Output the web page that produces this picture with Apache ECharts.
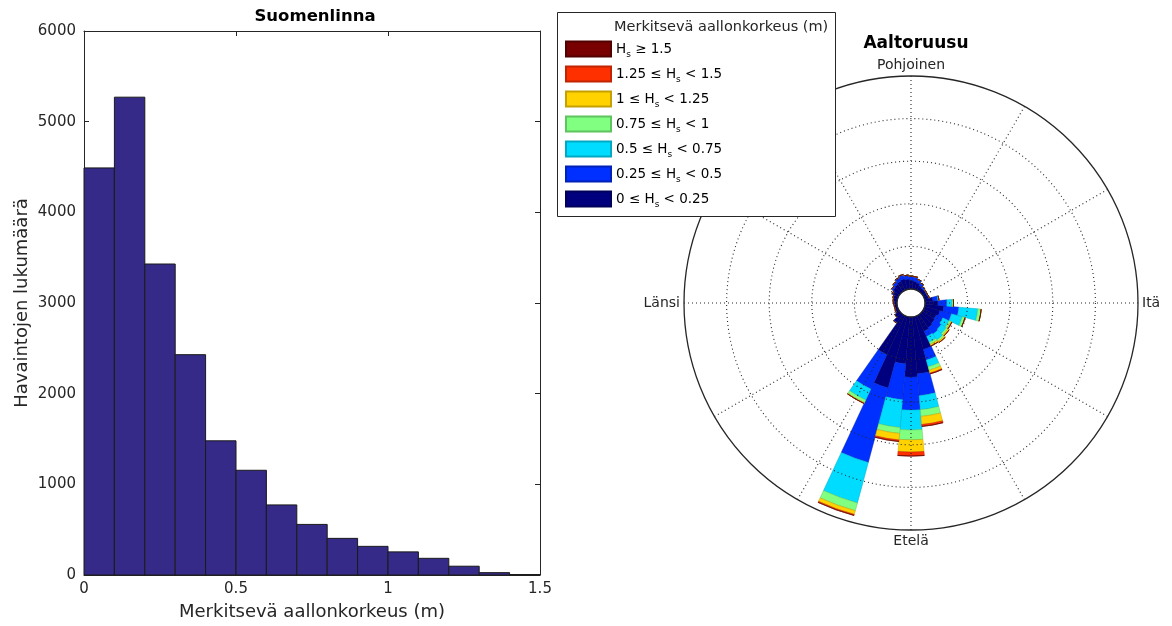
<!DOCTYPE html>
<html>
<head>
<meta charset="utf-8">
<script src="https://cdn.jsdelivr.net/npm/echarts@6.0.0/dist/echarts.min.js"></script>
<style>
html,body{margin:0;padding:0;background:#fff;}
#chart{width:1172px;height:626px;}
</style>
</head>
<body>
<div id="chart"></div>
<script>
// ---------- Histogram (Suomenlinna) ----------
const binEdges = [0, 0.1, 0.2, 0.3, 0.4, 0.5, 0.6, 0.7, 0.8, 0.9, 1.0, 1.1, 1.2, 1.3, 1.4, 1.5];
const binCounts = [4490, 5270, 3430, 2430, 1480, 1155, 773, 558, 404, 316, 255, 184, 97, 26, 5];
const histXTicks = [0, 0.5, 1, 1.5];
const histYTicks = [0, 1000, 2000, 3000, 4000, 5000, 6000];

// ---------- Wave rose (Aaltoruusu) ----------
const directions = ['0','10','20','30','40','50','60','70','80','90','100','110','120','130','140','150','160','170',
                    '180','190','200','210','220','230','240','250','260','270','280','290','300','310','320','330','340','350'];
const compassAngles = [0, 90, 180, 270];
const compassLabels = ['Pohjoinen', 'Itä', 'Etelä', 'Länsi'];
// frequency per direction for each wave height class (stacked)
const hs0_025 =   [0.42,0.38,0.33,0.23,0.19,0.19,0.16,0.19,0.38,0.61,0.89,0.75,0.66,0.70,0.75,0.80,1.60,2.68,
                   2.82,2.21,3.47,2.02,0.47,0.28,0.16,0.14,0.14,0.16,0.19,0.23,0.28,0.38,0.42,0.47,0.52,0.47];
const hs025_05 =  [0.19,0.21,0.16,0.15,0.09,0.04,0.05,0.04,0.23,0.42,0.71,0.56,0.33,0.38,0.38,0.28,0.51,1.03,
                   1.55,1.69,3.62,1.78,0.04,0.00,0.00,0.00,0.00,0.00,0.00,0.00,0.05,0.09,0.14,0.19,0.21,0.19];
const hs05_075 =  [0,0,0,0,0,0,0,0,0.05,0.24,0.89,0.52,0.32,0.28,0.33,0.30,0.33,0.66,
                   0.94,1.31,1.97,0.57,0,0,0,0,0,0,0,0,0,0,0,0,0,0];
const hs075_1 =   [0,0,0,0,0,0,0,0,0,0.07,0.16,0.14,0.10,0.10,0.09,0.10,0.17,0.32,
                   0.46,0.28,0.38,0.14,0,0,0,0,0,0,0,0,0,0,0,0,0,0];
const hs1_125 =   [0,0,0,0,0,0,0,0,0,0,0,0,0.05,0.07,0.07,0.09,0.14,0.38,
                   0.57,0.31,0.18,0.04,0,0,0,0,0,0,0,0,0,0,0,0,0,0];
const hs125_15 =  [0,0,0,0,0,0,0,0,0,0,0,0,0,0,0,0,0.04,0.09,
                   0.19,0.07,0.05,0,0,0,0,0,0,0,0,0,0,0,0,0,0,0];
const hs15 =      [0,0,0,0,0,0,0,0,0,0,0,0,0,0,0,0,0,0,
                   0,0,0,0,0,0,0,0,0,0,0,0,0,0,0,0,0,0];
const classNames = ['0 ≤ Hs < 0.25','0.25 ≤ Hs < 0.5','0.5 ≤ Hs < 0.75','0.75 ≤ Hs < 1','1 ≤ Hs < 1.25','1.25 ≤ Hs < 1.5','Hs ≥ 1.5'];
const classRich = ['{t|0 ≤ H}{s|s}{t| < 0.25}','{t|0.25 ≤ H}{s|s}{t| < 0.5}','{t|0.5 ≤ H}{s|s}{t| < 0.75}',
                   '{t|0.75 ≤ H}{s|s}{t| < 1}','{t|1 ≤ H}{s|s}{t| < 1.25}','{t|1.25 ≤ H}{s|s}{t| < 1.5}','{t|H}{s|s}{t| ≥ 1.5}'];
const classColors = ['#00007f','#0030ff','#00dcff','#80ff80','#ffd200','#ff3000','#780000'];
const classBorders = ['#00005a','#0022b8','#00a8c4','#5fc45f','#c4a000','#c02400','#500000'];
const roseData = [hs0_025, hs025_05, hs05_075, hs075_1, hs1_125, hs125_15, hs15];
const roseMax = 10, roseStep = 2;

const FONT = 'DejaVu Sans';
const TXT = '#262626';

const chart = echarts.init(document.getElementById('chart'), null, {renderer: 'canvas'});

const histData = binCounts.map((c, i) => [binEdges[i], binEdges[i + 1], c]);

const roseSeries = roseData.map((arr, k) => ({
  type: 'bar',
  name: classNames[k],
  coordinateSystem: 'polar',
  polarIndex: 1,
  stack: 'rose',
  barCategoryGap: '0%',
  data: arr,
  itemStyle: {color: classColors[k], borderColor: classBorders[k], borderWidth: 0.5},
  z: 2,
  silent: true
}));

const richMap = {};
classNames.forEach((n, i) => richMap[n] = classRich[i]);

const boxAxis = {
  axisLine: {show: true, onZero: false, lineStyle: {color: TXT, width: 1}},
  axisTick: {show: true, inside: true, length: 5, lineStyle: {color: TXT}},
  splitLine: {show: false}
};

const option = {
  animation: false,
  backgroundColor: '#ffffff',
  textStyle: {fontFamily: FONT, color: TXT},
  title: [
    {text: 'Suomenlinna', left: 310, top: 3, textAlign: 'center',
     textStyle: {fontFamily: FONT, fontSize: 16.5, fontWeight: 'bold', color: '#000'}},
    {text: 'Aaltoruusu', left: 911, top: 30, textAlign: 'center',
     textStyle: {fontFamily: FONT, fontSize: 17, fontWeight: 'bold', color: '#000'}},
    {text: 'Merkitsevä aallonkorkeus (m)', left: 609, top: 15, z: 30,
     textStyle: {fontFamily: FONT, fontSize: 14.5, fontWeight: 'normal', color: TXT}}
  ],
  graphic: [{
    type: 'rect', z: 25,
    shape: {x: 557.5, y: 12.5, width: 278, height: 204},
    style: {fill: '#fff', stroke: TXT, lineWidth: 1}
  }],
  legend: {
    show: true, z: 30,
    orient: 'vertical', left: 565, top: 39,
    itemWidth: 45, itemHeight: 15, itemGap: 5,
    icon: 'rect',
    padding: 0,
    data: classNames.slice().reverse(),
    formatter: n => richMap[n],
    textStyle: {
      fontFamily: FONT, fontSize: 13.5, color: '#000',
      rich: {
        t: {fontFamily: FONT, fontSize: 13.5, color: '#000', lineHeight: 20},
        s: {fontFamily: FONT, fontSize: 9, color: '#000', lineHeight: 9, padding: [11, 0, 0, 0]}
      }
    },
    selectedMode: false
  },
  grid: {left: 84, right: 632, top: 31, bottom: 50, show: false},
  xAxis: [
    Object.assign({type: 'value', gridIndex: 0, position: 'bottom', min: histXTicks[0], max: histXTicks[histXTicks.length - 1], interval: 0.5,
     axisLabel: {fontFamily: FONT, fontSize: 15, color: TXT, margin: 7, formatter: v => String(v)},
     name: 'Merkitsevä aallonkorkeus (m)', nameLocation: 'middle', nameGap: 28,
     nameTextStyle: {fontFamily: FONT, fontSize: 18, color: TXT}}, boxAxis),
    Object.assign({type: 'value', gridIndex: 0, position: 'top', min: 0, max: 1.5, interval: 0.5,
     axisLabel: {show: false}}, boxAxis)
  ],
  yAxis: [
    Object.assign({type: 'value', gridIndex: 0, position: 'left', min: histYTicks[0], max: histYTicks[histYTicks.length - 1], interval: 1000,
     axisLabel: {fontFamily: FONT, fontSize: 15, color: TXT, margin: 8, formatter: v => String(v)},
     name: 'Havaintojen lukumäärä', nameLocation: 'middle', nameGap: 53, nameRotate: 90,
     nameTextStyle: {fontFamily: FONT, fontSize: 18, color: TXT}}, boxAxis),
    Object.assign({type: 'value', gridIndex: 0, position: 'right', min: 0, max: 6000, interval: 1000,
     axisLabel: {show: false}}, boxAxis)
  ],
  polar: [
    {center: [911, 303], radius: [14, 227]},
    {center: [911, 303], radius: [14, 227]}
  ],
  angleAxis: [
    {polarIndex: 0, type: 'value', min: 0, max: 360, interval: 30, startAngle: 90, clockwise: true, z: 5,
     axisLine: {show: true, lineStyle: {color: TXT, width: 1.3}},
     axisTick: {show: false},
     axisLabel: {show: true, margin: 4, fontFamily: FONT, fontSize: 14, color: TXT,
       formatter: v => { const i = compassAngles.indexOf(v); return (i >= 0 && v < 360) ? compassLabels[i] : ''; }},
     splitLine: {show: true, lineStyle: {color: TXT, width: 1.1, type: [1, 3]}}},
    {polarIndex: 1, type: 'category', data: directions, startAngle: 95, clockwise: true, show: false,
     boundaryGap: true}
  ],
  radiusAxis: [
    {polarIndex: 0, type: 'value', min: 0, max: roseMax, interval: roseStep, z: 5,
     axisLine: {show: false}, axisTick: {show: false}, axisLabel: {show: false},
     splitLine: {show: true, lineStyle: {color: ['rgba(0,0,0,0)', TXT, TXT, TXT, TXT, 'rgba(0,0,0,0)'], width: 1.1, type: [1, 3]}}},
    {polarIndex: 1, type: 'value', min: 0, max: roseMax, show: false}
  ],
  series: [
    {
      type: 'custom',
      xAxisIndex: 0, yAxisIndex: 0,
      data: histData,
      encode: {x: [0, 1], y: 2},
      renderItem: function (params, api) {
        const p0 = api.coord([api.value(0), api.value(2)]);
        const p1 = api.coord([api.value(1), 0]);
        return {
          type: 'rect',
          shape: {x: p0[0], y: p0[1], width: p1[0] - p0[0], height: p1[1] - p0[1]},
          style: {fill: '#352a87', stroke: '#1a1a1a', lineWidth: 1}
        };
      },
      silent: true
    }
  ].concat(roseSeries)
};
chart.setOption(option);
</script>
</body>
</html>
